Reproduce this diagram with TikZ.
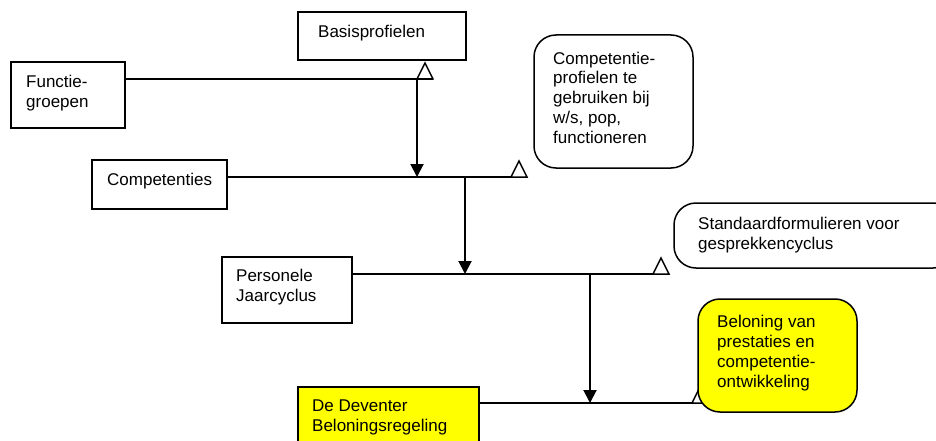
\documentclass[tikz,border=0pt]{standalone}
\usepackage{fontspec}
\setmainfont{Liberation Sans}
\usetikzlibrary{arrows.meta}
\definecolor{hl}{RGB}{255,255,0}
\tikzset{
  every picture/.style={x=1pt,y=-1pt},
  box/.style={draw=black,line width=1.5pt,inner sep=0pt,rectangle},
  rbox/.style={box,rounded corners=22pt},
  txt/.style={anchor=base west,inner sep=0pt,align=left,font=\fontsize{17}{19.7}\selectfont},
  conn/.style={line width=1.5pt},
  arr/.style={line width=2pt,-{Triangle[length=13pt,width=13pt]}},
  tri/.style={line width=1.5pt,fill=white,line join=miter},
}
\begin{document}
\begin{tikzpicture}
\clip (0,0) rectangle (936,441);
\fill[white] (0,0) rectangle (936,441);
% boxes
\node[box,minimum width=168pt,minimum height=48pt] (basis) at (382,36) {};
\node[box,minimum width=114pt,minimum height=66pt] (fg) at (68,95) {};
\node[box,minimum width=135pt,minimum height=49pt] (comp) at (159.5,184.5) {};
\node[box,minimum width=130pt,minimum height=66pt] (pers) at (287,290) {};
\node[box,fill=hl,minimum width=181pt,minimum height=73pt] (dd) at (388.5,423.5) {};
\node[rbox,minimum width=159pt,minimum height=133pt] (cp) at (613.5,101.5) {};
\node[rbox,minimum width=281pt,minimum height=65pt] (std) at (814.5,235.5) {};
% line ends
\coordinate (l1) at (433,79);
\coordinate (l2) at (527,177);
\coordinate (l3) at (669,274);
\coordinate (l4) at (708,403);
\coordinate (v1) at (417,79);
\coordinate (v2) at (465,177);
\coordinate (v3) at (590,274);
% horizontal connectors
\draw[conn] (fg.east |- l1) -- (l1);
\draw[conn] (comp.east |- l2) -- (l2);
\draw[conn] (pers.east |- l3) -- (l3);
\draw[conn] (dd.east |- l4) -- (l4);
% vertical arrows
\draw[arr] (v1) -- (v1 |- l2);
\draw[arr] (v2) -- (v2 |- l3);
\draw[arr] (v3) -- (v3 |- l4);
% open triangles
\foreach \t in {l1,l2,l3,l4}
  \draw[tri] (\t) -- ++(-8,-16) -- ++(-8,16) -- cycle;
% yellow rounded box on top
\node[rbox,fill=hl,minimum width=159pt,minimum height=113pt] (bel) at (777.5,355.5) {};
% texts (anchored at the baseline of the last line)
\node[txt] (basisT) at (318,38) {Basisprofielen};
\node[txt] (fgT) at (26,107) {Functie-\\groepen};
\node[txt] (compT) at (107,185) {Competenties};
\node[txt] (persT) at (236,301) {Personele\\Jaarcyclus};
\node[txt] (ddT) at (312,431) {De Deventer\\Beloningsregeling};
\node[txt] (cpT) at (553,143) {Competentie-\\profielen te\\gebruiken bij\\w/s, pop,\\functioneren};
\node[txt] (stdT) at (698,249) {Standaardformulieren voor\\gesprekkencyclus};
\node[txt] (belT) at (717,387) {Beloning van\\prestaties en\\competentie-\\ontwikkeling};
\end{tikzpicture}
\end{document}
